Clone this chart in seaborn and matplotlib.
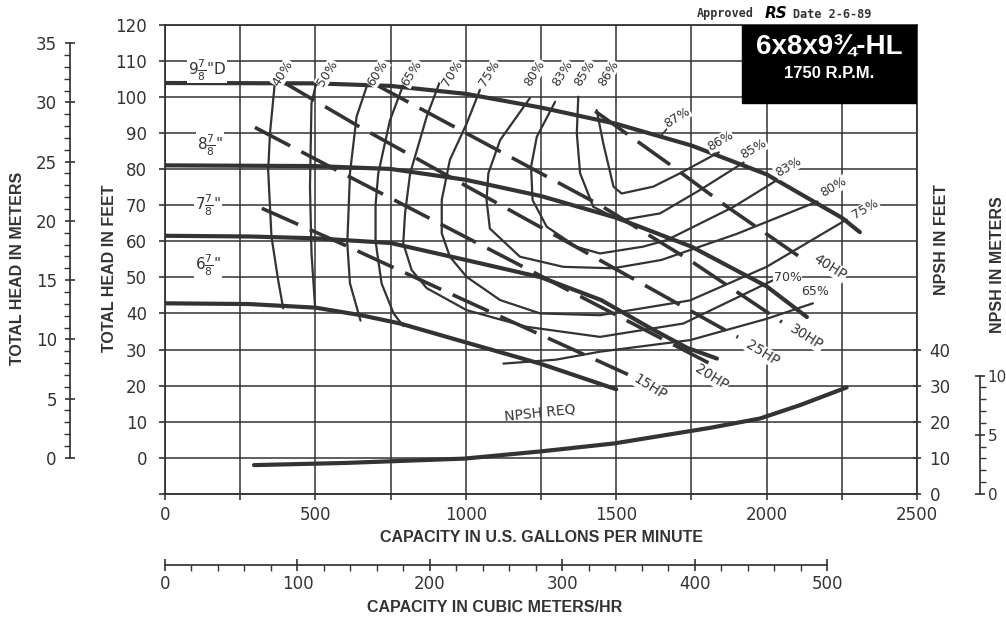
import matplotlib
matplotlib.use("Agg")
import matplotlib.pyplot as plt
import seaborn as sns
from matplotlib.patches import Rectangle

sns.set_theme(style="white")
plt.rcParams['font.family'] = ['DejaVu Sans']

INK = "#333333"

# --- DATA (capacity in US gpm, total head in ft) ---
gpm_ticks = [0, 500, 1000, 1500, 2000, 2500]
head_ticks = [0, 10, 20, 30, 40, 50, 60, 70, 80, 90, 100, 110, 120]

# impeller head curves
head_9_78 = [(0, 103.8), (500, 103.7), (750, 103.0), (1000, 100.8), (1250, 97.0), (1500, 92.5),
             (1750, 86.5), (2000, 78.5), (2250, 66.5), (2310, 62.5)]
head_8_78 = [(0, 81.0), (500, 80.8), (750, 80.0), (1000, 77.0), (1250, 72.5), (1500, 66.5),
             (1750, 58.5), (2000, 47.5), (2134, 39.0)]
head_7_78 = [(0, 61.5), (283, 61.3), (500, 60.8), (750, 59.5), (1000, 54.8), (1250, 50.0),
             (1450, 43.7), (1612, 36.0), (1735, 30.5), (1835, 27.5)]
head_6_78 = [(0, 42.8), (278, 42.6), (500, 41.6), (652, 39.5), (782, 37.2), (995, 32.1),
             (1247, 26.1), (1500, 19.0)]

# efficiency contours
eff_40 = [(366, 104.6), (349, 89.9), (343, 79.6), (354, 61.2), (376, 49.3), (393, 41.4)]
eff_50 = [(504, 104.2), (487, 98.2), (482, 75.1), (487, 56.7), (499, 41.8)]
eff_60 = [(676, 104.2), (637, 94.5), (615, 78.9), (609, 65.8), (606, 59.4), (615, 48.3), (650, 38.0)]
eff_65a = [(798, 104.6), (748, 93.5), (709, 78.8), (700, 70.0), (700, 60.0), (720, 48.3),
           (760, 40.0), (792, 36.5)]
eff_65b = [(1125, 26.1), (1300, 27.2), (1446, 29.4), (1745, 32.6), (2000, 38.5), (2154, 42.8)]
eff_70 = [(914, 104.2), (870, 94.5), (815, 78.8), (798, 67.7), (792, 59.4), (820, 52.0),
          (870, 47.0), (1003, 40.9), (1202, 36.3), (1446, 33.5), (1723, 37.2), (2022, 49.2)]
eff_75 = [(1047, 101.9), (1003, 92.6), (947, 82.5), (920, 71.4), (920, 62.2), (947, 55.7),
          (1003, 50.1), (1114, 43.7), (1247, 40.0), (1446, 39.5), (1745, 43.6), (2000, 52.9),
          (2266, 66.0)]
eff_80 = [(1213, 99.6), (1114, 88.0), (1075, 78.8), (1069, 71.4), (1080, 63.5), (1180, 55.7),
          (1324, 52.9), (1490, 52.5), (1650, 54.8), (1900, 62.0), (2169, 71.0)]
eff_83 = [(1297, 98.6), (1236, 88.9), (1217, 80.6), (1222, 71.4), (1269, 64.0), (1369, 58.4),
          (1446, 56.6), (1590, 58.5), (1668, 60.3), (1890, 69.5), (2034, 76.9)]
eff_85 = [(1374, 100.0), (1369, 89.9), (1380, 78.8), (1424, 69.5), (1513, 65.8), (1646, 67.7),
          (1779, 74.2), (1924, 81.8)]
eff_86 = [(1435, 96.3), (1457, 87.1), (1491, 75.1), (1518, 73.2), (1623, 75.1), (1712, 78.8),
          (1841, 84.6)]

# horsepower lines
hp_15 = [(322, 69.1), (598, 58.9), (1000, 43.5), (1539, 23.1)]
hp_20 = [(299, 91.5), (549, 80.6), (1200, 52.5), (1812, 26.1)]
hp_25 = [(382, 104.6), (648, 91.6), (1300, 61.5), (1905, 33.4)]
hp_30 = [(693, 103.7), (1446, 70.0), (1745, 54.7), (2051, 37.6)]
hp_40 = [(1430, 96.0), (1672, 81.6), (1871, 69.4), (2111, 55.6)]

# NPSH required (ft)
npsh_q = [296, 600, 995, 1250, 1493, 1811, 1978, 2111, 2266]
npsh_ft = [8.0, 8.6, 9.8, 11.8, 14.0, 18.3, 20.9, 24.6, 29.5]

W, H = 1006, 618
fig = plt.figure(figsize=(W / 100, H / 100), dpi=100)
ax = fig.add_axes([165 / W, 1 - 494 / H, (917 - 165) / W, (494 - 24.5) / H])
ax.set_xlim(0, 2500)
ax.set_ylim(-10, 120)


def trace(points, lw, ls="-"):
    q, h = zip(*points)
    sns.lineplot(x=list(q), y=list(h), sort=False, estimator=None, color=INK, lw=lw,
                 linestyle=ls, ax=ax, legend=False, zorder=3)


for c in [head_9_78, head_8_78, head_7_78, head_6_78]:
    trace(c, 3.0)
for c in [eff_40, eff_50, eff_60, eff_65a, eff_65b, eff_70, eff_75, eff_80, eff_83, eff_85, eff_86]:
    trace(c, 1.6)
for c in [hp_15, hp_20, hp_25, hp_30, hp_40]:
    trace(c, 2.6, (0, (11, 3.5)))
sns.lineplot(x=npsh_q, y=[v - 10 for v in npsh_ft], color=INK, lw=3.0, ax=ax, zorder=3)

# grid and main axes
ax.set_xticks(range(0, 2501, 250))
ax.set_xticklabels([str(v) if v in gpm_ticks else "" for v in range(0, 2501, 250)])
ax.set_yticks(range(-10, 121, 10))
ax.set_yticklabels([str(v) if v in head_ticks else "" for v in range(-10, 121, 10)])
ax.grid(True, color=INK, lw=1.1)
for s in ax.spines.values():
    s.set_color(INK)
    s.set_linewidth(1.3)
ax.tick_params(axis="both", colors=INK, labelcolor=INK, labelsize=12, length=4, width=1.2,
               direction="out")
ax.tick_params(axis="x", pad=5, bottom=True)
ax.tick_params(axis="y", pad=9, left=True)

# meters (head) axis on far left
m_ax = ax.secondary_yaxis((70 - 165) / 752, functions=(lambda f: f / 3.281, lambda m: m * 3.281))
m_ax.set_yticks(range(0, 36, 5))
m_ax.set_yticks(range(0, 36), minor=True)
m_ax.spines["left"].set_bounds(0, 35)
m_ax.spines["left"].set_color(INK)
m_ax.tick_params(which="major", length=7, width=1.2, direction="inout", colors=INK, labelsize=12, pad=6)
m_ax.tick_params(which="minor", length=4, width=1.0, direction="out", colors=INK)

# NPSH feet on right spine
n_ax = ax.secondary_yaxis("right", functions=(lambda h: h + 10, lambda n: n - 10))
n_ax.set_yticks([0, 10, 20, 30, 40])
n_ax.spines["right"].set_visible(False)
n_ax.tick_params(length=6, width=1.2, direction="inout", colors=INK, labelsize=12, pad=6)

# NPSH meters
nm_ax = ax.secondary_yaxis((980 - 165) / 752,
                           functions=(lambda h: (h + 10) / 3.281, lambda m: m * 3.281 - 10))
nm_ax.set_yticks([0, 5, 10])
nm_ax.set_yticks(range(0, 11), minor=True)
nm_ax.spines["right"].set_bounds(0, 10)
nm_ax.spines["right"].set_color(INK)
nm_ax.tick_params(which="major", length=7, width=1.2, direction="inout", colors=INK, labelsize=11, pad=2)
nm_ax.tick_params(which="minor", length=4, width=1.0, direction="out", colors=INK)

# cubic meters/hr axis
c_ax = ax.secondary_xaxis((494 - 565) / (494 - 24.5), functions=(lambda q: q * 0.2271, lambda m: m / 0.2271))
c_ax.set_xticks(range(0, 501, 100))
c_ax.set_xticks(range(0, 501, 20), minor=True)
c_ax.spines["bottom"].set_bounds(0, 500)
c_ax.spines["bottom"].set_color(INK)
c_ax.tick_params(which="major", length=8, width=1.2, direction="inout", colors=INK, labelsize=12, pad=3)
c_ax.tick_params(which="minor", length=4, width=1.0, direction="out", colors=INK)

# labels on the curves
box = dict(facecolor="white", edgecolor="none", pad=0.4)
for txt, x, y in [(r'9$\frac{7}{8}$"D', 140, 107.4), (r'8$\frac{7}{8}$"', 150, 86.6),
                  (r'7$\frac{7}{8}$"', 143, 70.0), (r'6$\frac{7}{8}$"', 143, 53.3)]:
    ax.text(x, y, txt, fontsize=11, color=INK, ha="center", va="center", bbox=box, zorder=4)

for txt, x in [("40%", 392), ("50%", 539), ("60%", 708), ("65%", 821), ("70%", 954), ("75%", 1080),
               ("80%", 1230), ("83%", 1320), ("85%", 1396), ("86%", 1473)]:
    ax.text(x, 106.5, txt, fontsize=9, color=INK, rotation=58, ha="center", va="center",
            bbox=box, zorder=4)

ax.annotate("87%", xy=(1651, 89.4), xytext=(1702, 94.3), fontsize=9, color=INK, rotation=32,
            ha="center", va="center", bbox=box, zorder=4,
            arrowprops=dict(arrowstyle="-", color=INK, lw=1.2, shrinkA=6, shrinkB=0))
for txt, x, y in [("86%", 1845, 87.7), ("85%", 1958, 85.5), ("83%", 2071, 80.5), ("80%", 2224, 74.9),
                  ("75%", 2330, 68.8)]:
    ax.text(x, y, txt, fontsize=9, color=INK, rotation=30, ha="center", va="center", bbox=box, zorder=4)
for txt, x, y in [("70%", 2070, 49.9), ("65%", 2160, 46.0)]:
    ax.text(x, y, txt, fontsize=9, color=INK, rotation=0, ha="center", va="center", bbox=box, zorder=4)
for txt, x, y in [("40HP", 2211, 52.8), ("30HP", 2134, 33.4), ("25HP", 1988, 29.0),
                  ("20HP", 1818, 22.4), ("15HP", 1612, 19.6)]:
    ax.text(x, y, txt, fontsize=10, color=INK, rotation=-32, ha="center", va="center", bbox=box, zorder=4)
ax.text(1247, 12.6, "NPSH REQ", fontsize=10, color=INK, rotation=6, ha="center", va="center", zorder=4)

# title block
ax.add_patch(Rectangle((1918, 98.3), 582, 21.7, facecolor="black", edgecolor="black", zorder=5))
ax.text(2209, 113.5, "6x8x9¾-HL", color="white", fontsize=20, fontweight="bold",
        family="Liberation Sans", ha="center", va="center", zorder=6)
ax.text(2209, 106.5, "1750 R.P.M.", color="white", fontsize=12, fontweight="bold",
        family="Liberation Sans", ha="center", va="center", zorder=6)
fig.text(697 / W, 1 - 14 / H, "Approved", fontsize=8.5, fontweight="bold", family="DejaVu Sans Mono",
         color=INK, ha="left", va="center")
fig.text(776 / W, 1 - 14 / H, "RS", fontsize=11, fontweight="bold", style="italic", color="black",
         ha="center", va="center")
fig.text(793 / W, 1 - 14 / H, "Date 2-6-89", fontsize=8.5, fontweight="bold", family="DejaVu Sans Mono",
         color=INK, ha="left", va="center")

# axis titles
tf = dict(fontsize=11.5, fontweight="bold", color=INK, family=["Liberation Sans Narrow", "Liberation Sans"])
fig.text(18 / W, 1 - 268 / H, "TOTAL HEAD IN METERS", rotation=90, ha="center", va="center", **tf)
fig.text(110 / W, 1 - 268 / H, "TOTAL HEAD IN FEET", rotation=90, ha="center", va="center", **tf)
fig.text(941 / W, 1 - 240 / H, "NPSH IN FEET", rotation=90, ha="center", va="center", **tf)
fig.text(997 / W, 1 - 265 / H, "NPSH IN METERS", rotation=90, ha="center", va="center", **tf)
fig.text(541 / W, 1 - 538 / H, "CAPACITY IN U.S. GALLONS PER MINUTE", ha="center", va="center", **tf)
fig.text(495 / W, 1 - 607 / H, "CAPACITY IN CUBIC METERS/HR", ha="center", va="center", **tf)

fig.savefig("out.png", dpi=100, facecolor="white")
